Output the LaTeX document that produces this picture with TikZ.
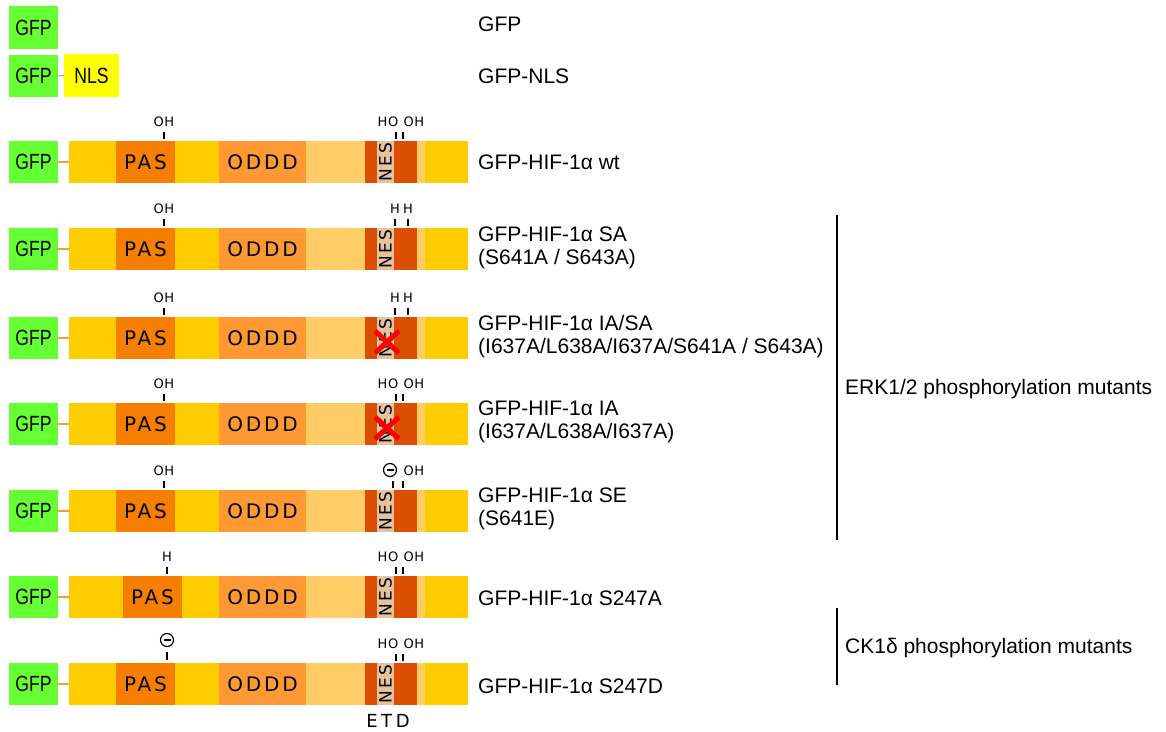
\documentclass[tikz,border=0pt]{standalone}
\usepackage{fontspec}
\setmainfont{Liberation Sans}
\newfontfamily\boxfont[FakeStretch=0.8]{Liberation Sans}
\newfontfamily\domfont[LetterSpace=14]{DejaVu Sans}
\newfontfamily\etdfont[LetterSpace=20]{DejaVu Sans}
\newfontfamily\tagfont[LetterSpace=4]{DejaVu Sans}

\definecolor{gfpgreen}{HTML}{66FF33}
\definecolor{nlsyellow}{HTML}{FFFF00}
\definecolor{hifyellow}{HTML}{FFCC00}
\definecolor{pasorange}{HTML}{F77F00}
\definecolor{odddorange}{HTML}{FF9933}
\definecolor{paleorange}{HTML}{FFCC66}
\definecolor{etdred}{HTML}{DD4F00}
\definecolor{nesbeige}{HTML}{E5C3A0}

\tikzset{
  gfpbox/.style={fill=gfpgreen, minimum width=49, minimum height=42, inner sep=0,
    font=\boxfont\fontsize{22}{22}\selectfont},
  nlsbox/.style={gfpbox, fill=nlsyellow, minimum width=55, minimum height=43},
  seg/.style={inner sep=0, outer sep=0, minimum height=42, anchor=west,
    font=\domfont\fontsize{20}{20}\selectfont},
  nestext/.style={rotate=90, inner sep=0, font=\domfont\fontsize{17}{17}\selectfont},
  link/.style={draw=odddorange, line width=1.2},
  sitelabel/.style={inner sep=0, font=\tagfont\fontsize{13}{13}\selectfont},
  sitemark/.style={line width=1.3},
  charge/.style={circle, draw, line width=1.2, minimum size=13, inner sep=0},
  knockout/.style={draw=red, line width=5},
  constructlabel/.style={anchor=west, inner sep=0, font=\fontsize{21}{23}\selectfont, align=left},
  groupbar/.style={line width=2.5},
  etdlabel/.style={inner sep=0, font=\etdfont\fontsize{18}{18}\selectfont}
}

% one GFP-HIF-1alpha construct: #1 prefix, #2 y centre, #3 left edge of PAS
\newcommand\hifrow[3]{%
  \node[gfpbox] (#1-gfp) at (33.5,#2) {GFP};
  \node[seg, fill=hifyellow, minimum width=399] (#1-bar) at (69,#2) {};
  \node[seg, fill=pasorange, minimum width=59] (#1-pas) at (#3,#2) {PAS};
  \node[seg, fill=odddorange, minimum width=87] (#1-oddd) at (219,#2) {ODDD};
  \node[seg, fill=paleorange, minimum width=119] (#1-pale) at (306,#2) {};
  \node[seg, fill=etdred, minimum width=52] (#1-etd) at (365,#2) {};
  \node[seg, fill=nesbeige, minimum width=17] (#1-nes) at (377,#2) {};
  \node[nestext] (#1-nestext) at (#1-nes.center) {NES};
  \draw[link] (#1-gfp.east) -- (#1-bar.west);
}
% short stroke from a site label down to the bar: #1 x, #2 y centre
\newcommand\sitetick[2]{\draw[sitemark] (#1,{#2-30}) -- (#1,{#2-23});}
% minus sign inside a charge circle: #1 node name
\newcommand\minussign[1]{\draw[line width=1.4] ([xshift=-3.5]#1.center) -- ([xshift=3.5]#1.center);}
% red cross over the NES: #1 x, #2 y
\newcommand\nescross[2]{%
  \draw[knockout] ({#1-12},{#2-11}) -- ({#1+12},{#2+11});
  \draw[knockout] ({#1-12},{#2+11}) -- ({#1+12},{#2-11});
}

\begin{document}
\begin{tikzpicture}[x=1pt, y=-1pt]
\useasboundingbox (0,0) rectangle (1166,731);

% GFP alone and GFP-NLS
\node[gfpbox, minimum height=43] (g1) at (33.5,27.5) {GFP};
\node[constructlabel] (l1) at (478,24) {GFP};
\node[gfpbox] (g2) at (33.5,76) {GFP};
\node[nlsbox] (nls) at (91.5,75.5) {NLS};
\draw[link] (g2.east) -- (nls.west);
\node[constructlabel] (l2) at (478,76) {GFP-NLS};

% wild type
\hifrow{wt}{162}{116}
\node[sitelabel] at (164,122) {OH}; \sitetick{164}{162}
\node[sitelabel] at (388,122) {HO}; \node[sitelabel] at (414,122) {OH};
\sitetick{396}{162}\sitetick{403}{162}
\node[constructlabel] (lwt) at (478,162) {GFP-HIF-1α wt};

% SA
\hifrow{sa}{249}{116}
\node[sitelabel] at (164,209) {OH}; \sitetick{164}{249}
\node[sitelabel] at (395,209) {H}; \node[sitelabel] at (408,209) {H};
\sitetick{395}{249}\sitetick{408}{249}
\node[constructlabel] (lsa) at (478,248) {GFP-HIF-1α SA\\(S641A / S643A)};

% IA/SA
\hifrow{iasa}{338}{116}
\node[sitelabel] at (164,298) {OH}; \sitetick{164}{338}
\node[sitelabel] at (395,298) {H}; \node[sitelabel] at (408,298) {H};
\sitetick{395}{338}\sitetick{408}{338}
\nescross{387}{342}
\node[constructlabel] (liasa) at (478,337) {GFP-HIF-1α IA/SA\\(I637A/L638A/I637A/S641A / S643A)};

% IA
\hifrow{ia}{424}{116}
\node[sitelabel] at (164,384) {OH}; \sitetick{164}{424}
\node[sitelabel] at (388,384) {HO}; \node[sitelabel] at (414,384) {OH};
\sitetick{396}{424}\sitetick{403}{424}
\nescross{387}{428}
\node[constructlabel] (lia) at (478,422) {GFP-HIF-1α IA\\(I637A/L638A/I637A)};

% SE
\hifrow{se}{511}{116}
\node[sitelabel] at (164,471) {OH}; \sitetick{164}{511}
\node[charge] (se-minus) at (390,470) {}; \minussign{se-minus}
\node[sitelabel] at (414,471) {OH};
\sitetick{393}{511}\sitetick{403}{511}
\node[constructlabel] (lse) at (478,509) {GFP-HIF-1α SE\\(S641E)};

% S247A
\hifrow{sta}{597}{123}
\node[sitelabel] at (167,557) {H}; \sitetick{167}{597}
\node[sitelabel] at (388,557) {HO}; \node[sitelabel] at (414,557) {OH};
\sitetick{396}{597}\sitetick{403}{597}
\node[constructlabel] (lsta) at (478,598) {GFP-HIF-1α S247A};

% S247D
\hifrow{std}{684}{116}
\node[charge] (std-minus) at (167,640) {}; \minussign{std-minus}
\draw[sitemark] (167,652) -- (167,660);
\node[sitelabel] at (388,644) {HO}; \node[sitelabel] at (414,644) {OH};
\sitetick{396}{684}\sitetick{403}{684}
\node[constructlabel] (lstd) at (478,686) {GFP-HIF-1α S247D};
\node[etdlabel] (etd) at (388,721) {ETD};

% kinase groups
\coordinate (erk-top) at (837,215);
\coordinate (erk-bot) at (837,540);
\draw[groupbar] (erk-top) -- (erk-bot);
\node[constructlabel] (lerk) at (845,389) {ERK1/2 phosphorylation mutants};
\coordinate (ck-top) at (837,608);
\coordinate (ck-bot) at (837,685);
\draw[groupbar] (ck-top) -- (ck-bot);
\node[constructlabel] (lck) at (845,648) {CK1δ phosphorylation mutants};
\end{tikzpicture}
\end{document}
